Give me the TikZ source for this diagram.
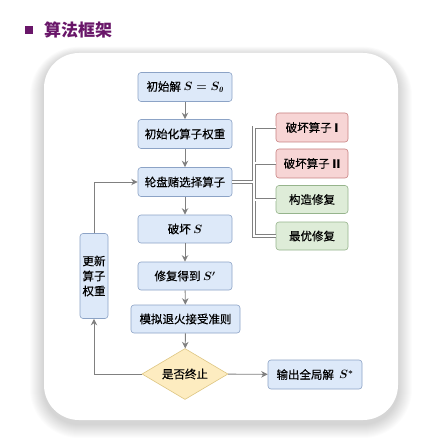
\documentclass[tikz,border=0pt]{standalone}
\usepackage{fontspec}
\newfontfamily\cjk[FakeBold=0.4]{Noto Sans CJK SC}
\newfontfamily\cjkt{Noto Sans CJK SC}
\usetikzlibrary{arrows.meta,shapes.geometric}
\definecolor{blueF}{RGB}{221,233,249}
\definecolor{blueD}{RGB}{140,163,198}
\definecolor{redF}{RGB}{247,213,213}
\definecolor{redD}{RGB}{200,130,130}
\definecolor{greenF}{RGB}{222,236,216}
\definecolor{greenD}{RGB}{150,180,140}
\definecolor{yelF}{RGB}{253,236,192}
\definecolor{yelD}{RGB}{222,198,130}
\definecolor{arr}{RGB}{128,128,128}
\definecolor{ttl}{RGB}{105,22,105}
\tikzset{
  bx/.style={draw=blueD, fill=blueF, rounded corners=3pt, line width=0.6pt,
    minimum width=94pt, minimum height=29pt, inner sep=0pt,
    font=\cjk\fontsize{11.5}{13}\selectfont},
  rbx/.style={bx, draw=redD, fill=redF, minimum width=72pt},
  gbx/.style={bx, draw=greenD, fill=greenF, minimum width=72pt, minimum height=28pt},
  dia/.style={diamond, draw=yelD, fill=yelF, line width=0.6pt, minimum width=86pt,
    minimum height=51pt, inner sep=0pt, aspect=1.7, font=\cjk\fontsize{11.5}{13}\selectfont},
  ar/.style={draw=arr, line width=0.9pt, -{Stealth[length=6.5pt,width=6.5pt]}},
  dbl/.style={draw=arr, line width=0.7pt, double=white, double distance=2pt, line join=miter}
}
\begin{document}
\begin{tikzpicture}[x=1pt,y=-1pt]
\useasboundingbox (0,0) rectangle (431,438);
% panel shadow
\foreach \i in {1,...,14}{
  \fill[black, opacity=0.012, rounded corners={35+\i}]
    (44-\i,55-0.6*\i) rectangle (398+\i,424+\i);
}
\fill[white, rounded corners=35] (44,53) rectangle (398,420);
% title
\fill[ttl] (25,26) rectangle (33,34);
\node[anchor=west, text=ttl, font=\cjkt\bfseries\fontsize{17}{19}\selectfont, inner sep=0pt] (title) at (44,30) {算法框架};
% main column
\node[bx] (init) at (185,87) {初始解 {\boldmath$S=S_{\mathit{0}}$}};
\node[bx] (w) at (185,134) {初始化算子权重};
\node[bx] (sel) at (185,182) {轮盘赌选择算子};
\node[bx, minimum height=28pt] (des) at (185,229) {破坏 {\boldmath$S$}};
\node[bx, minimum height=28pt] (rep) at (185,276) {修复得到 {\boldmath$S'$}};
\node[bx, minimum width=109pt, minimum height=28pt] (sa) at (185.5,319) {模拟退火接受准则};
\node[dia] (dec) at (185,374) {是否终止};
\node[bx, minimum width=94pt] (out) at (315,374.5) {输出全局解\ \ {\boldmath$S^{*}$}};
\node[bx, minimum width=28pt, minimum height=85pt, align=center, font=\cjk\fontsize{11.5}{15}\selectfont] (upd) at (94,276) {更新\\算子\\权重};
% operators
\node[rbx] (o1) at (312,127.5) {破坏算子 \textbf{I}};
\node[rbx] (o2) at (312,163.5) {破坏算子 \textbf{II}};
\node[gbx] (o3) at (312,199.5) {构造修复};
\node[gbx] (o4) at (312,236) {最优修复};
% arrows
\draw[ar] (init) -- (w);
\draw[ar] (w) -- (sel);
\draw[ar] (sel) -- (des);
\draw[ar] (des) -- (rep);
\draw[ar] (rep) -- (sa);
\draw[ar] (sa) -- (dec);
\draw[ar] (dec) -- (out);
\draw[ar] (dec.west) -| (upd.south);
\draw[ar] (upd.north) |- (sel.west);
% double-line bus
\coordinate (t1) at (254,127.5);
\coordinate (t2) at (254,163.5);
\coordinate (t3) at (254,199.5);
\coordinate (t4) at (254,236);
\coordinate (ts) at (254,182);
\draw[dbl] (o1.west) -- (t1) -- (t4) -- (o4.west)
  (t2) -- (o2.west)
  (t3) -- (o3.west)
  (sel.east) -- (ts);
\end{tikzpicture}
\end{document}
